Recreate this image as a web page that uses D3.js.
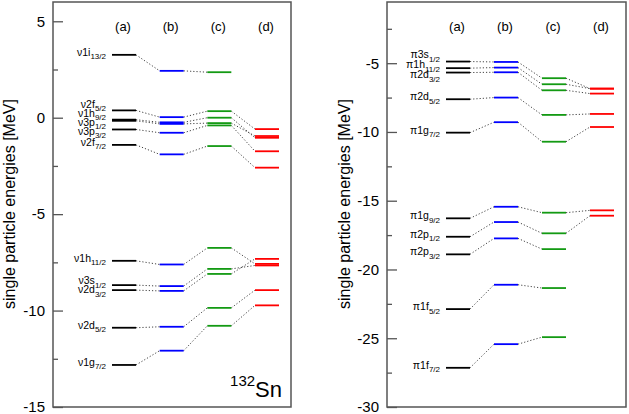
<!DOCTYPE html>
<html><head><meta charset="utf-8">
<script src="https://cdn.jsdelivr.net/npm/d3@7"></script>
<style>body{margin:0;background:#fff} svg{display:block;font-family:"Liberation Sans",Arial,sans-serif}</style>
</head><body><svg id="c" width="629" height="414"></svg>
<script>
const columns = ["(a)","(b)","(c)","(d)"];
const neutronOrbitals = ["1i13/2","2f5/2","1h9/2","3p1/2","3p3/2","2f7/2","1h11/2","3s1/2","2d3/2","2d5/2","1g7/2"];
const neutronA = [3.26,0.38,-0.10,-0.16,-0.61,-1.41,-7.42,-8.68,-8.94,-10.89,-12.82];
const neutronB = [2.43,0.03,-0.24,-0.32,-0.78,-1.90,-7.61,-8.73,-8.98,-10.84,-12.08];
const neutronC = [2.36,0.34,0.00,-0.28,-0.40,-1.47,-6.75,-7.84,-8.10,-9.86,-10.79];
const neutronD = [null,-0.59,-1.04,-0.95,-1.74,-2.59,-7.58,-7.66,-7.32,-8.94,-9.73];
const protonOrbitals = ["3s1/2","1h11/2","2d3/2","2d5/2","1g7/2","1g9/2","2p1/2","2p3/2","1f5/2","1f7/2"];
const protonA = [-4.88,-5.36,-5.68,-7.62,-10.05,-16.28,-17.62,-18.90,-22.88,-27.15];
const protonB = [-4.91,-5.32,-5.66,-7.50,-9.29,-15.44,-16.55,-17.74,-21.11,-25.43];
const protonC = [-6.09,-6.53,-6.97,-8.76,-10.71,-15.87,-17.37,-18.52,-21.35,-24.92];
const protonD = [-6.85,-6.85,-7.21,-8.69,-9.64,-15.70,-16.09,null,null,null];
const neutronTicks = [5,0,-5,-10,-15];
const neutronMinor = [2.5,-2.5,-7.5,-12.5];
const protonTicks = [-5,-10,-15,-20,-25,-30];
const protonMinor = [-2.5,-7.5,-12.5,-17.5,-22.5,-27.5];
const colColors = ["#000000","#0000ff","#139a13","#ff0000"];
const axisTitle = "single particle energies [MeV]";

const svg = d3.select("#c");

function spread(items, gap){
  items.sort((a,b)=>a.d-b.d);
  const blocks=[];
  const top = b => b.sum/b.items.length - (b.items.length-1)*gap/2;
  for(const it of items){
    blocks.push({items:[it], sum:it.d});
    while(blocks.length>1){
      const b=blocks[blocks.length-1], a=blocks[blocks.length-2];
      if(top(b) < top(a) + a.items.length*gap){ a.items.push(...b.items); a.sum+=b.sum; blocks.pop(); }
      else break;
    }
  }
  blocks.forEach(b=>{const t=top(b); b.items.forEach((it,k)=>it.p=t+k*gap);});
}

function panel(o){
  const g = svg.append("g");
  const y = d3.scaleLinear().domain(o.domain).range([407,2]);
  const x = d3.scalePoint().domain(columns).range([o.x0+71, o.x1-24]);
  const hw = 12;
  const series = o.series;
  const ax = g.append("g").attr("transform",`translate(${o.x0},0)`)
    .call(d3.axisLeft(y).tickValues(o.ticks).tickSizeInner(-10).tickSizeOuter(0).tickPadding(8).tickFormat(d=>String(d)));
  ax.select(".domain").remove();
  ax.selectAll("line").attr("stroke","#555").attr("stroke-width",1.3);
  ax.selectAll("text").attr("font-size",15).attr("fill","#000").attr("font-family",'"Liberation Sans",Arial,sans-serif');
  const mx = g.append("g").attr("transform",`translate(${o.x0},0)`)
    .call(d3.axisLeft(y).tickValues(o.minor).tickSizeInner(-5).tickSizeOuter(0).tickFormat(""));
  mx.select(".domain").remove();
  mx.selectAll("line").attr("stroke","#555").attr("stroke-width",1.3);
  g.append("rect").attr("x",o.x0).attr("y",2).attr("width",o.x1-o.x0).attr("height",405)
    .attr("fill","none").attr("stroke","#555").attr("stroke-width",1.5);
  g.selectAll(".hdr").data(columns).join("text")
    .attr("x",d=>x(d)-1).attr("y",31).attr("text-anchor","middle").attr("font-size",13).text(d=>d);
  o.orbitals.forEach((orb,i)=>{
    for(let j=0;j<3;j++){
      const a=series[j][i], b=series[j+1][i];
      if(a==null||b==null) continue;
      g.append("line").attr("x1",x(columns[j])+hw).attr("x2",x(columns[j+1])-hw)
        .attr("y1",y(a)).attr("y2",y(b)).attr("stroke","#444").attr("stroke-width",1)
        .attr("stroke-dasharray","1.2,2");
    }
  });
  series.forEach((s,j)=>{
    g.selectAll(null).data(s.map((v,i)=>({v,i})).filter(d=>d.v!=null)).join("line")
      .attr("x1",x(columns[j])-hw).attr("x2",x(columns[j])+hw)
      .attr("y1",d=>y(d.v)).attr("y2",d=>y(d.v))
      .attr("stroke",colColors[j]).attr("stroke-width",1.8);
  });
  const items = o.orbitals.map((orb,i)=>({orb, d:y(series[0][i])+1}));
  spread(items, o.gap);
  items.forEach(it=>{
    const m = it.orb.match(/^(\d[a-z])(.+)$/);
    const t = g.append("text").attr("x",x(columns[0])-hw-6).attr("y",it.p)
      .attr("text-anchor","end").attr("font-size",10.5);
    t.append("tspan").text(o.particle+m[1]);
    t.append("tspan").attr("font-size",8).attr("dy",3.5).text(m[2]);
  });
  svg.append("text").attr("transform",`translate(${o.titleX},204) rotate(-90)`)
    .attr("text-anchor","middle").attr("font-size",16).text(axisTitle);
  return g;
}

panel({x0:53,x1:291,domain:[-15,6],ticks:neutronTicks,minor:neutronMinor,particle:"ν",
  orbitals:neutronOrbitals,series:[neutronA,neutronB,neutronC,neutronD],gap:9,titleX:15});
panel({x0:387,x1:626,domain:[-30,-0.55],ticks:protonTicks,minor:protonMinor,particle:"π",
  orbitals:protonOrbitals,series:[protonA,protonB,protonC,protonD],gap:10,titleX:350});

const sn = svg.append("text").attr("x",282).attr("y",397).attr("text-anchor","end");
sn.append("tspan").attr("font-size",15).attr("dy",-11).text("132");
sn.append("tspan").attr("font-size",22).attr("dy",11).text("Sn");
</script></body></html>
